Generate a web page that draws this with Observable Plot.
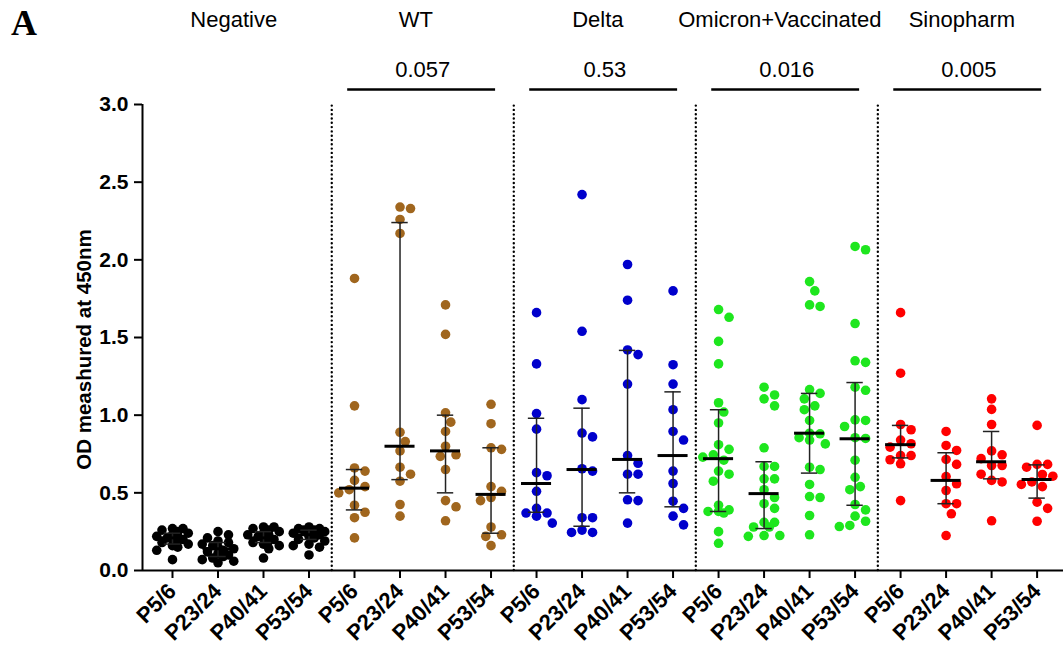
<!DOCTYPE html>
<html><head><meta charset="utf-8">
<script src="https://cdn.jsdelivr.net/npm/d3@7"></script>
<script src="https://cdn.jsdelivr.net/npm/@observablehq/plot@0.6"></script>
<style>
body{margin:0;background:#fff;}
#wrap{position:relative;width:1063px;height:656px;overflow:hidden;}
#panel{position:absolute;left:11px;top:2px;font:bold 36px "Liberation Serif",serif;color:#000;}
</style></head><body><div id="wrap"><div id="panel">A</div><div id="chart"></div></div>
<script>
// ---- data ----
const groups = ["Negative", "WT", "Delta", "Omicron+Vaccinated", "Sinopharm"];
const passages = ["P5/6", "P23/24", "P40/41", "P53/54"];
const groupColors = ["#000000", "#A0661E", "#0000CC", "#1EE61E", "#FF0000"];
const pValues = ["", "0.057", "0.53", "0.016", "0.005"];

const negative = [
  [0.27,0.27,0.26,0.25,0.24,0.23,0.22,0.22,0.21,0.20,0.20,0.19,0.18,0.17,0.16,0.15,0.13,0.07],
  [0.25,0.23,0.21,0.19,0.18,0.17,0.16,0.15,0.14,0.13,0.12,0.11,0.10,0.09,0.08,0.07,0.06,0.05],
  [0.28,0.28,0.27,0.26,0.25,0.24,0.23,0.23,0.22,0.21,0.20,0.19,0.18,0.17,0.16,0.14,0.08],
  [0.28,0.27,0.27,0.26,0.26,0.25,0.25,0.24,0.23,0.22,0.21,0.20,0.19,0.17,0.16,0.15,0.10]
];
const wt = [
  [1.88,1.06,0.66,0.64,0.58,0.54,0.52,0.50,0.42,0.375,0.34,0.21],
  [2.34,2.33,2.26,2.17,0.89,0.83,0.77,0.665,0.62,0.575,0.425,0.35],
  [1.71,1.52,1.015,0.955,0.895,0.80,0.745,0.735,0.65,0.45,0.41,0.32],
  [1.07,0.945,0.79,0.78,0.54,0.51,0.47,0.45,0.28,0.23,0.22,0.16]
];
const delta = [
  [1.66,1.33,1.01,0.91,0.63,0.61,0.51,0.40,0.37,0.37,0.35,0.305],
  [2.42,1.54,1.10,0.885,0.86,0.655,0.64,0.34,0.34,0.26,0.245,0.245],
  [1.97,1.74,1.42,1.39,1.20,0.74,0.69,0.62,0.62,0.455,0.45,0.305],
  [1.80,1.325,1.20,1.035,0.895,0.84,0.64,0.56,0.446,0.40,0.35,0.294]
];
const omicron = [
  [1.68,1.63,1.475,1.33,1.08,1.02,0.95,0.81,0.78,0.745,0.73,0.71,0.64,0.62,0.575,0.42,0.39,0.38,0.38,0.37,0.25,0.175],
  [1.18,1.13,1.105,1.06,0.79,0.67,0.67,0.59,0.59,0.52,0.47,0.43,0.40,0.31,0.31,0.28,0.28,0.225,0.225,0.22],
  [1.86,1.80,1.71,1.70,1.165,1.14,1.105,1.06,1.035,0.966,0.884,0.88,0.855,0.84,0.815,0.665,0.65,0.554,0.476,0.47,0.354,0.23],
  [2.086,2.065,1.59,1.35,1.34,1.18,1.16,0.97,0.966,0.927,0.855,0.85,0.71,0.60,0.54,0.52,0.425,0.39,0.35,0.317,0.29,0.283]
];
const sinopharm = [
  [1.66,1.27,0.94,0.906,0.84,0.816,0.794,0.74,0.74,0.713,0.687,0.45],
  [0.895,0.805,0.773,0.715,0.683,0.605,0.558,0.515,0.43,0.43,0.365,0.225],
  [1.105,1.037,0.94,0.77,0.745,0.72,0.676,0.676,0.62,0.58,0.57,0.32],
  [0.934,0.683,0.683,0.665,0.618,0.607,0.57,0.554,0.54,0.44,0.40,0.317]
];
// median with interquartile range, per column
const medians = [0.21,0.14,0.21,0.23, 0.53,0.80,0.77,0.49, 0.56,0.65,0.715,0.74, 0.72,0.495,0.884,0.848, 0.81,0.58,0.70,0.586];
const q1s     = [0.17,0.09,0.18,0.20, 0.39,0.585,0.50,0.24, 0.375,0.285,0.50,0.41, 0.38,0.27,0.627,0.42, 0.725,0.43,0.59,0.466];
const q3s     = [0.24,0.18,0.25,0.26, 0.65,2.24,1.00,0.79, 0.98,1.045,1.417,1.15, 1.035,0.70,1.14,1.21, 0.934,0.758,0.895,0.68];
const yTicks = [0, 0.5, 1.0, 1.5, 2.0, 2.5, 3.0];

// ---- build tables ----
const series = [negative, wt, delta, omicron, sinopharm];
const W = 1063, H = 656, mL = 142, mT = 104, mB = 86;
const xDomain = [-0.659, 19.58];
const pxX = (W - mL) / (xDomain[1] - xDomain[0]);
const pxY = (H - mT - mB) / 3;

// simple scatter arrangement: nearest free slot, limited width, least-overlap fallback
function swarm(vals) {
  const s = 10.5, placed = [], cand = [0, 0.5, -0.5, 1, -1, 1.5, -1.5];
  return vals.map(v => {
    let best = 0, bestD = -1;
    for (const c of cand) {
      const o = c * s;
      const d = placed.length ? Math.min(...placed.map(p => Math.hypot(o - p.o, (v - p.v) * pxY))) : Infinity;
      if (d >= s) { best = o; bestD = Infinity; break; }
      if (d > bestD + 2) { bestD = d; best = o; }
    }
    placed.push({v, o: best});
    return best / pxX;
  });
}

const points = [];
const stats = [];
series.forEach((grp, g) => grp.forEach((vals, p) => {
  const i = g * 4 + p;
  const offs = swarm(vals);
  vals.forEach((v, k) => points.push({x: i + offs[k], v, color: groupColors[g]}));
  stats.push({i, median: medians[i], q1: q1s[i], q3: q3s[i]});
}));
const groupRows = groups.map((name, g) => ({name, g, c: g * 4 + 1.5, start: g * 4, end: g * 4 + 3, p: pValues[g]}));
const testRows = groupRows.filter(d => d.p);
const separators = groupRows.slice(1).map(d => d.start - 0.5);

const font = "'Liberation Sans', Arial, sans-serif";
const chart = Plot.plot({
  width: W, height: H, marginLeft: mL, marginRight: 0, marginTop: mT, marginBottom: mB,
  style: {fontFamily: font, color: "#000", background: "#fff", overflow: "visible"},
  color: {type: "identity"},
  x: {type: "linear", domain: xDomain},
  y: {domain: [0, 3]},
  marks: [
    Plot.ruleX(separators, {y1: 0, y2: 3, stroke: "#000", strokeWidth: 2.4, strokeDasharray: "0,4.3", strokeLinecap: "round"}),
    Plot.dot(points, {x: "x", y: "v", r: 4.8, fill: "color", stroke: "none"}),
    Plot.ruleX(stats, {x: "i", y1: "q1", y2: "q3", stroke: "#222", strokeWidth: 1.5}),
    Plot.ruleY(stats, {y: "q3", x1: d => d.i - 0.18, x2: d => d.i + 0.18, stroke: "#222", strokeWidth: 1.5}),
    Plot.ruleY(stats, {y: "q1", x1: d => d.i - 0.18, x2: d => d.i + 0.18, stroke: "#222", strokeWidth: 1.5}),
    Plot.ruleY(stats, {y: "median", x1: d => d.i - 0.33, x2: d => d.i + 0.33, stroke: "#000", strokeWidth: 3}),
    Plot.ruleY([0], {stroke: "#000", strokeWidth: 2}),
    Plot.ruleX([xDomain[0]], {y1: 0, y2: 3, stroke: "#000", strokeWidth: 2}),
    Plot.axisY(yTicks, {tickFormat: d3.format(".1f"), tickSize: 8, tickPadding: 6, fontSize: 21, fontWeight: "bold", strokeWidth: 2, label: null}),
    Plot.axisX(d3.range(20), {tickFormat: i => passages[i % 4], tickRotate: -45, tickSize: 8, tickPadding: 9, fontSize: 22, fontWeight: "bold", strokeWidth: 2, label: null}),
    Plot.text(["OD meashured at 450nm"], {frameAnchor: "left", textAnchor: "middle", rotate: -90, dx: -58, dy: 12, fontSize: 20.5, fontWeight: "bold"}),
    Plot.text(groupRows, {x: "c", frameAnchor: "top", dy: -93, text: "name", fontSize: 22, dx: -7}),
    Plot.text(testRows, {x: "c", frameAnchor: "top", dy: -43, text: "p", fontSize: 22}),
    Plot.ruleY(testRows, {y: () => 3, x1: d => d.start - 0.15, x2: d => d.end + 0.1, dy: -15, stroke: "#000", strokeWidth: 2.5})
  ]
});
document.getElementById("chart").appendChild(chart);
</script></body></html>
